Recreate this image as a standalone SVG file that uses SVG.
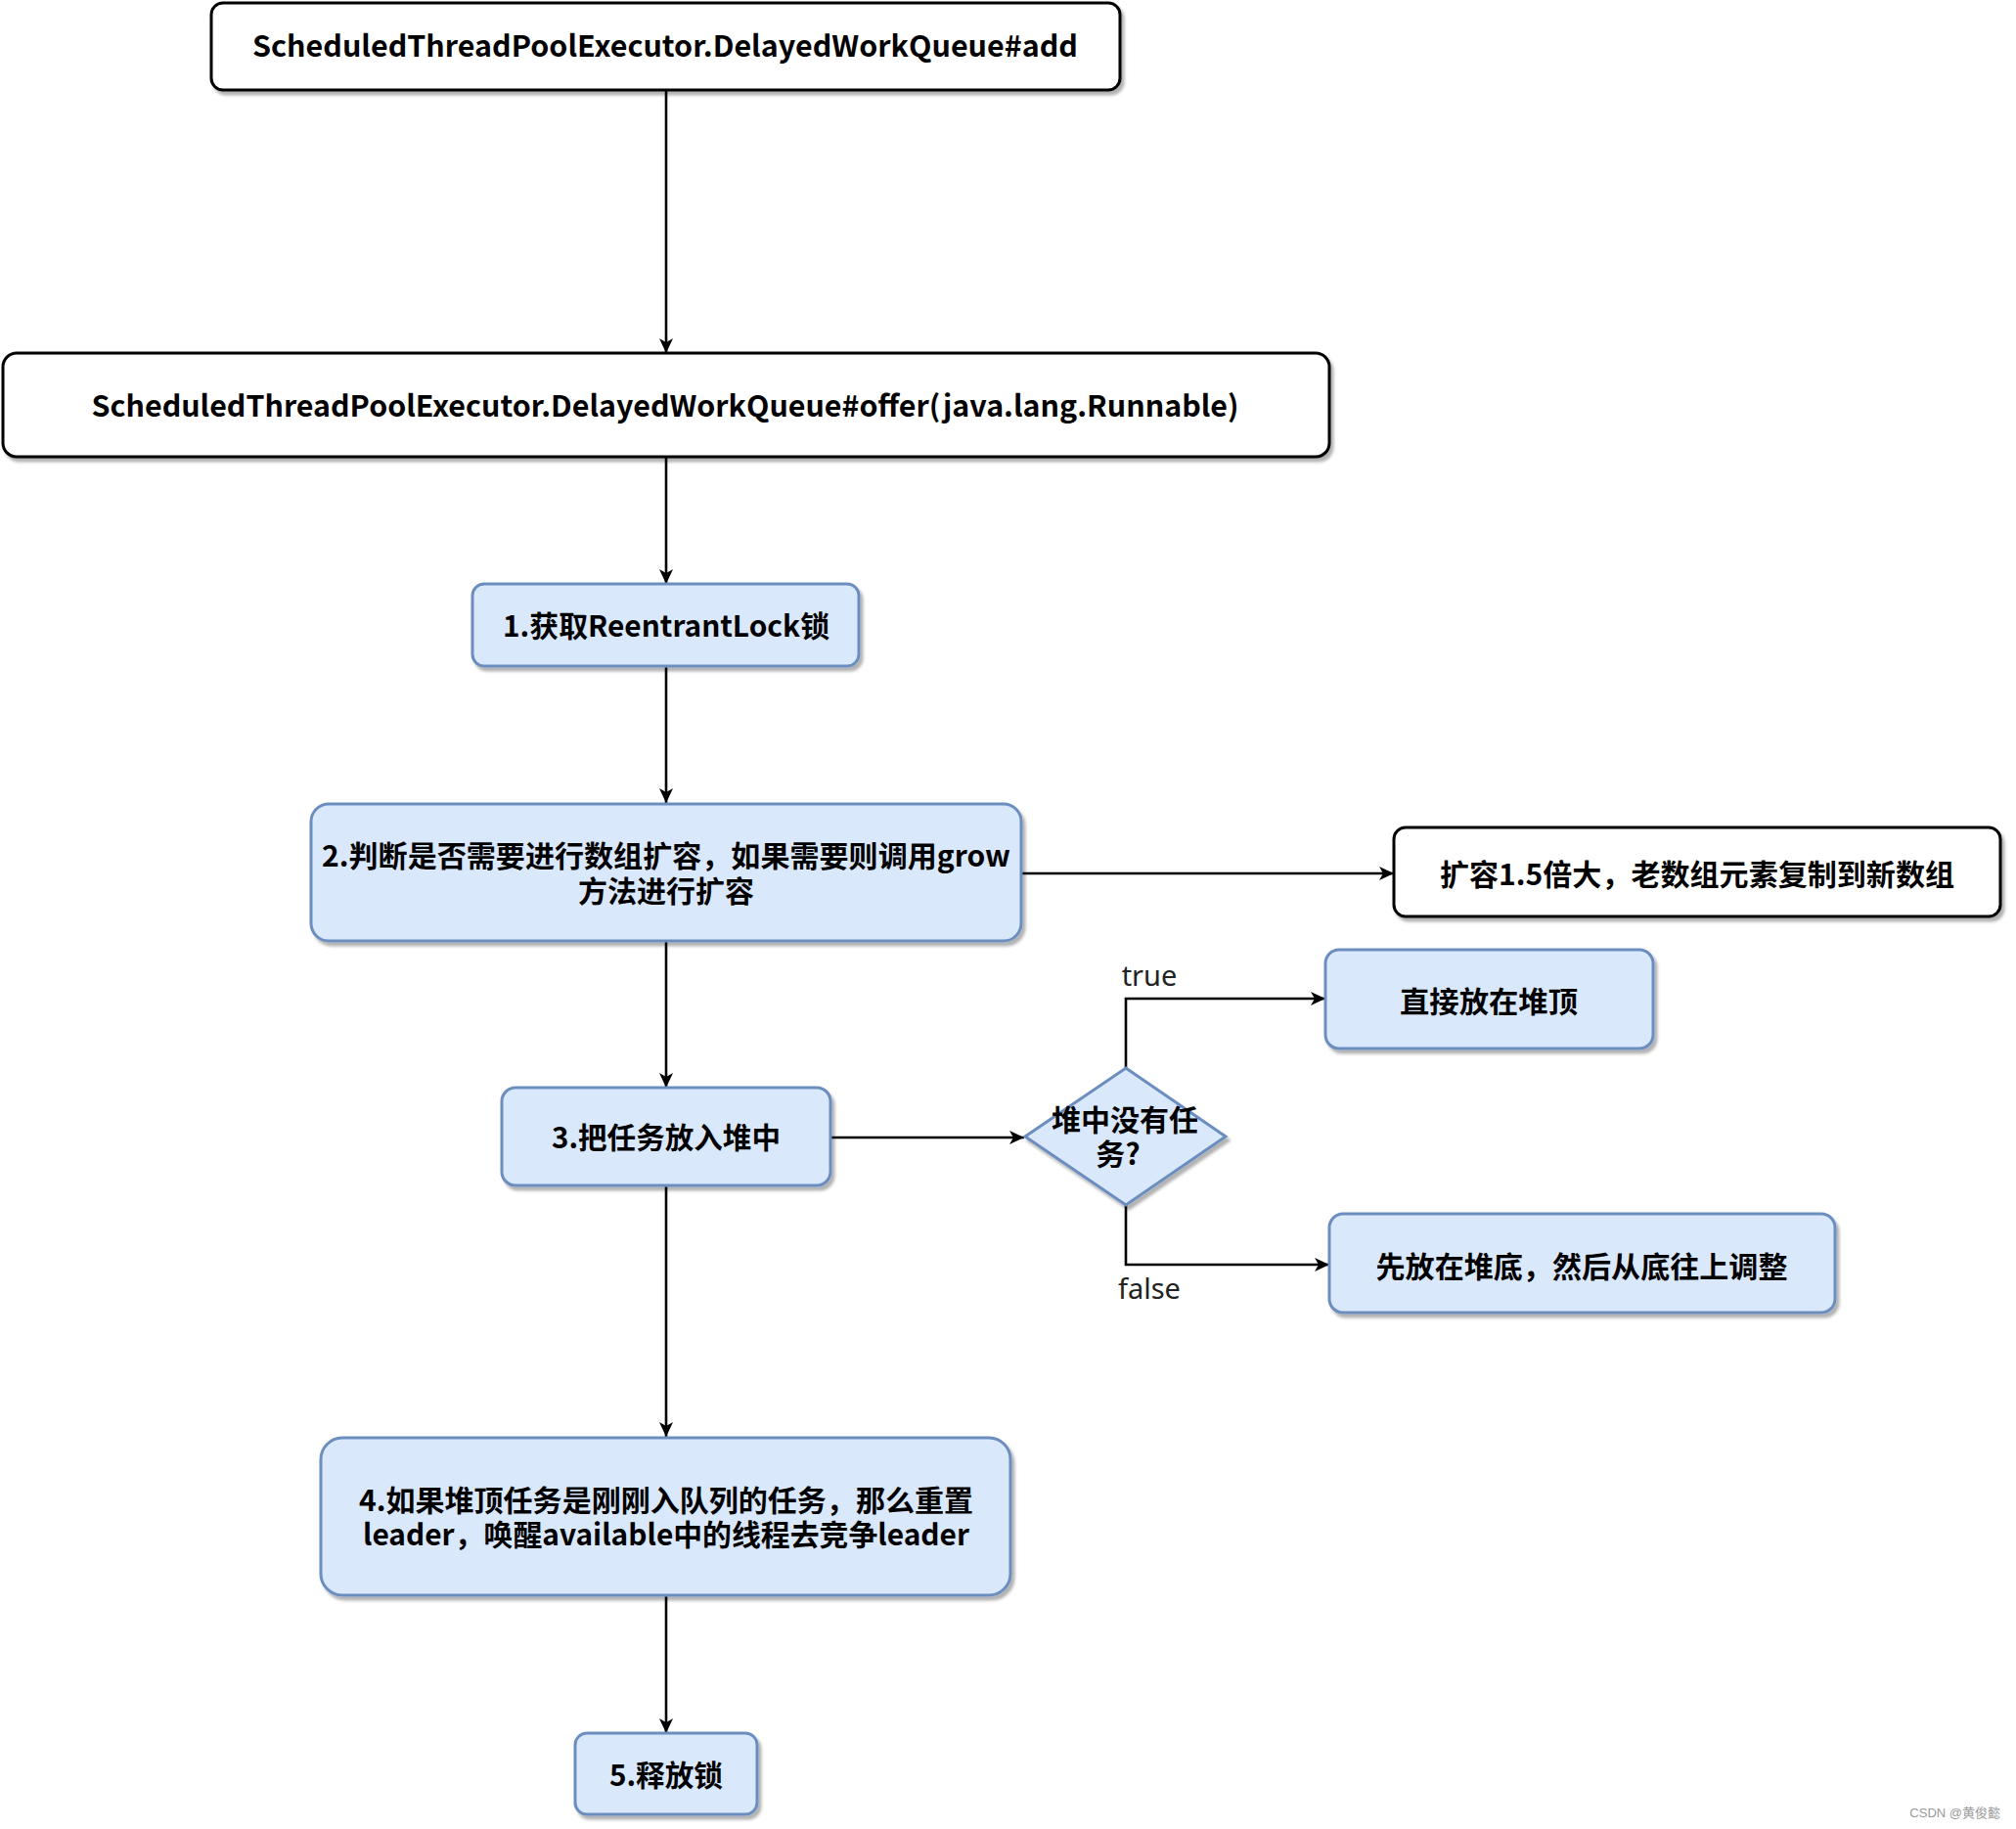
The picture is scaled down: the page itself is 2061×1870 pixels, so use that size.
<svg xmlns="http://www.w3.org/2000/svg" width="2061" height="1870" viewBox="0 0 2061 1870">
<style>
.t{font-family:"Noto Sans CJK SC","Noto Sans",sans-serif;font-weight:bold;font-size:30px;fill:#000;text-anchor:middle}
.lbl{font-family:"Noto Sans","Noto Sans CJK SC",sans-serif;font-size:29px;fill:#222;text-anchor:middle}
.w{fill:#fff;stroke:#000;stroke-width:3}
.b{fill:#dae8fc;stroke:#6c8ebf;stroke-width:3}
.e{fill:none;stroke:#000;stroke-width:2.6;marker-end:url(#arr)}
.wm{font-family:"Liberation Sans","Noto Sans CJK SC",sans-serif;font-size:13px;fill:#9a9a9a;text-anchor:end}
</style>
<defs>
<filter id="sh" x="-10%" y="-10%" width="120%" height="130%">
<feDropShadow dx="3" dy="4" stdDeviation="1.5" flood-color="#000" flood-opacity="0.3"/>
</filter>
<marker id="arr" markerUnits="userSpaceOnUse" markerWidth="16" markerHeight="14" viewBox="0 0 16 14" refX="15" refY="7" orient="auto">
<path d="M0,0 L15,7 L0,14 L4,7 z" fill="#000"/>
</marker>
</defs>
<rect width="2061" height="1870" fill="#fff"/>
<g id="connectors">
<line class="e" x1="681" y1="92" x2="681" y2="361"/>
<line class="e" x1="681" y1="467" x2="681" y2="597"/>
<line class="e" x1="681" y1="681" x2="681" y2="821"/>
<line class="e" x1="1044" y1="893" x2="1425" y2="893"/>
<line class="e" x1="681" y1="962" x2="681" y2="1112"/>
<line class="e" x1="849" y1="1163" x2="1047" y2="1163"/>
<polyline class="e" points="1151,1092 1151,1021 1355,1021"/>
<polyline class="e" points="1151,1232 1151,1293 1359,1293"/>
<line class="e" x1="681" y1="1212" x2="681" y2="1469"/>
<line class="e" x1="681" y1="1631" x2="681" y2="1772"/>
<text class="lbl" x="1175" y="1008">true</text>
<text class="lbl" x="1175" y="1328">false</text>
</g>
<g id="n_add">
<rect class="w" filter="url(#sh)" x="216" y="3" width="929" height="89" rx="12"/>
<text class="t" x="680" y="58" textLength="844" lengthAdjust="spacingAndGlyphs">ScheduledThreadPoolExecutor.DelayedWorkQueue#add</text>
</g>
<g id="n_offer">
<rect class="w" filter="url(#sh)" x="3" y="361" width="1356" height="106" rx="14"/>
<text class="t" x="680" y="426" textLength="1173" lengthAdjust="spacingAndGlyphs">ScheduledThreadPoolExecutor.DelayedWorkQueue#offer(java.lang.Runnable)</text>
</g>
<g id="n_lock">
<rect class="b" filter="url(#sh)" x="483" y="597" width="395" height="84" rx="12"/>
<text class="t" x="681" y="651" textLength="334" lengthAdjust="spacingAndGlyphs">1.获取ReentrantLock锁</text>
</g>
<g id="n_grow">
<rect class="b" filter="url(#sh)" x="318" y="822" width="726" height="140" rx="18"/>
<text class="t" x="681" y="886" textLength="704" lengthAdjust="spacingAndGlyphs">2.判断是否需要进行数组扩容，如果需要则调用grow</text>
<text class="t" x="681" y="922" textLength="180" lengthAdjust="spacingAndGlyphs">方法进行扩容</text>
</g>
<g id="n_expand">
<rect class="w" filter="url(#sh)" x="1425" y="846" width="620" height="91" rx="12"/>
<text class="t" x="1735" y="905" textLength="526" lengthAdjust="spacingAndGlyphs">扩容1.5倍大，老数组元素复制到新数组</text>
</g>
<g id="n_heap">
<rect class="b" filter="url(#sh)" x="513" y="1112" width="336" height="100" rx="14"/>
<text class="t" x="681" y="1174" textLength="234" lengthAdjust="spacingAndGlyphs">3.把任务放入堆中</text>
</g>
<g id="n_decision">
<polygon class="b" filter="url(#sh)" points="1151,1092 1253,1162 1151,1232 1048,1162"/>
<text class="t" x="1150" y="1156" textLength="150" lengthAdjust="spacingAndGlyphs">堆中没有任</text>
<text class="t" x="1143" y="1191">务?</text>
</g>
<g id="n_top">
<rect class="b" filter="url(#sh)" x="1355" y="971" width="335" height="101" rx="14"/>
<text class="t" x="1522" y="1035" textLength="182" lengthAdjust="spacingAndGlyphs">直接放在堆顶</text>
</g>
<g id="n_bottom">
<rect class="b" filter="url(#sh)" x="1359" y="1241" width="517" height="101" rx="14"/>
<text class="t" x="1617" y="1306" textLength="421" lengthAdjust="spacingAndGlyphs">先放在堆底，然后从底往上调整</text>
</g>
<g id="n_leader">
<rect class="b" filter="url(#sh)" x="328" y="1470" width="705" height="161" rx="22"/>
<text class="t" x="681" y="1545" textLength="628" lengthAdjust="spacingAndGlyphs">4.如果堆顶任务是刚刚入队列的任务，那么重置</text>
<text class="t" x="681" y="1580" textLength="620" lengthAdjust="spacingAndGlyphs">leader，唤醒available中的线程去竞争leader</text>
</g>
<g id="n_unlock">
<rect class="b" filter="url(#sh)" x="588" y="1772" width="186" height="83" rx="12"/>
<text class="t" x="681" y="1826" textLength="116" lengthAdjust="spacingAndGlyphs">5.释放锁</text>
</g>
<text class="wm" x="2045" y="1858">CSDN @黄俊懿</text>
</svg>
